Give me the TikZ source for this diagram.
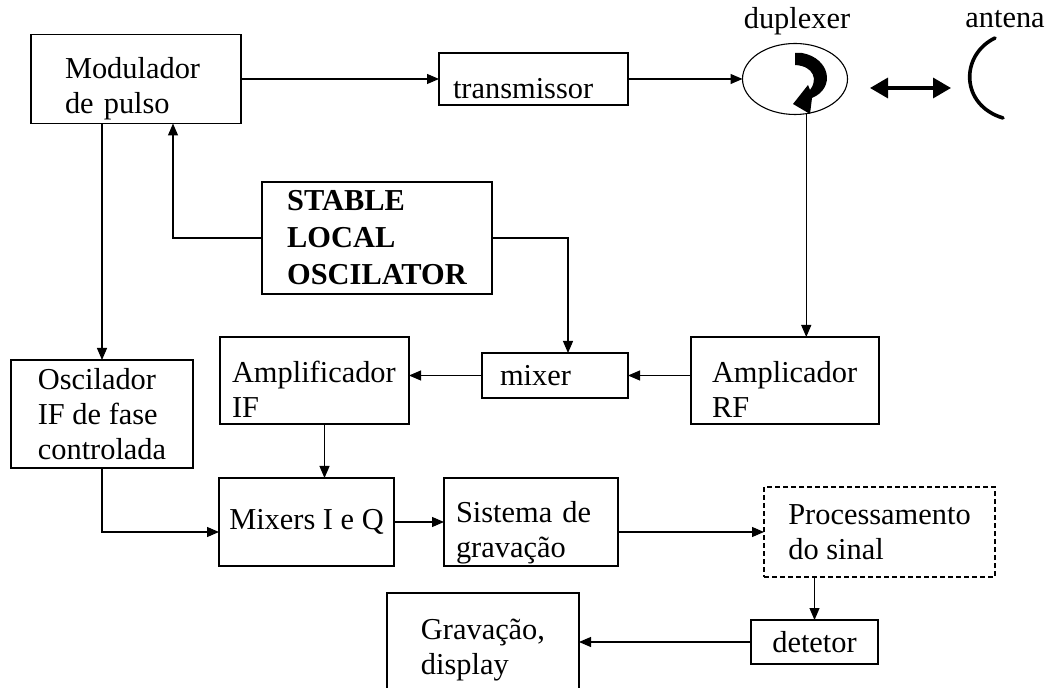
\documentclass[tikz,border=0pt]{standalone}
\usepackage{fontspec}
\setmainfont{Liberation Serif}
\usetikzlibrary{arrows.meta,shapes.geometric}

\begin{document}
\begin{tikzpicture}
[x=0.5pt,y=-0.5pt,line width=0.55pt,
 every node/.style={inner sep=0pt,outer sep=0pt,font=\fontsize{15.2pt}{17.5pt}\selectfont},
 blk/.style={draw,rectangle,align=left},
 sz/.style 2 args={minimum width=#1,minimum height=#2},
 lft/.style 2 args={text width=#1,inner xsep=#2},
 drop/.style={execute at begin node={\rule{0pt}{#1}}},
 arr/.style={-{Triangle[length=6pt,width=5pt]}},
 link/.style={line width=1.7pt,{Triangle[length=9pt,width=10pt]}-{Triangle[length=9pt,width=10pt]}}]
\useasboundingbox (0,0) rectangle (1053,688);
\clip (0,0) rectangle (1053,688);
% blocks
\node[blk,sz={105pt}{44.5pt},lft={71pt}{17pt},drop=20.4pt]    (mod)  at (136,79)      {Modulador\\de pulso};
\node[blk,sz={94.5pt}{26pt},lft={80.5pt}{7pt},drop=20pt]      (tx)   at (533.5,79)    {transmissor};
\node[draw,ellipse,sz={52.5pt}{35.5pt}]                       (dup)  at (795,79)      {};
\node                                                         (dupl) at (797,21.5)    {duplexer};
\node[anchor=base]                                            (antl) at (1005,28)     {antena};
\node[blk,sz={115pt}{56pt},font=\fontsize{15.2pt}{18.5pt}\selectfont\bfseries]
                                                              (slo)  at (377,238)     {STABLE\\LOCAL\\OSCILATOR};
\node[blk,sz={91pt}{54pt}]                                    (osc)  at (102,414)     {Oscilador\\IF de fase\\controlada};
\node[blk,sz={94.5pt}{43.5pt},lft={82.5pt}{6pt},drop=19.4pt]  (aif)  at (314.5,380.5) {Amplificador\\IF};
\node[blk,sz={73pt}{22.5pt},lft={55pt}{9pt}]                  (mix)  at (555,375.5)   {mixer};
\node[blk,sz={94pt}{43.5pt},lft={73pt}{10.5pt},drop=19.4pt]   (arf)  at (785,380.5)   {Amplicador\\RF};
\node[blk,sz={87.5pt}{44pt}]                                  (miq)  at (306.5,522)   {Mixers I e Q};
\node[blk,sz={87pt}{44pt},lft={75pt}{6pt},drop=21.4pt]        (sis)  at (531,522)     {Sistema de\\gravação};
\node[blk,sz={115.5pt}{45pt},dash pattern=on 2.5pt off 1.5pt]
                                                              (proc) at (879.5,532)   {Processamento\\do sinal};
\node[blk,sz={63.5pt}{22pt}]                                  (det)  at (814.5,642)   {detetor};
\node[blk,sz={96pt}{57pt}]                                    (grav) at (483,650)     {Gravação,\\display};
% signal paths
\draw[arr] (mod) -- (tx);
\draw[arr] (tx) -- (dup);
\draw[arr] (dup.-72.6) -- (dup.-72.6 |- arf.north);
\draw[arr] (arf.west |- mix) -- (mix.east);
\draw[arr] (mix.west) -- (mix.west -| aif.east);
\draw[arr] (slo.east) -| ([xshift=6.5pt]mix.north);
\draw[arr] (slo.west) -| ([xshift=18.5pt]mod.south);
\draw[arr] (mod.south -| osc) -- (osc.north);
\draw[arr] ([xshift=5pt]aif.south) -- ([xshift=5pt]aif.south |- miq.north);
\draw[arr] (osc.south) |- ([yshift=-5pt]miq.west);
\draw[arr] (miq) -- (sis);
\draw[arr] (proc.west -| sis.east) -- (proc.west);
\draw[arr] (det.north |- proc.south) -- (det.north);
\draw[arr] (det.west) -- (det.west -| grav.east);
% duplexer <-> antenna
\coordinate (linkL) at (870,88);
\coordinate (linkR) at (951,88);
\draw[link] (linkL) -- (linkR);
\draw[line width=1.8pt,line cap=round] (995,38) .. controls (960,55) and (960,105) .. (1003,118);
% circulator arrow
\fill (795,53) -- (802,53) .. controls (830,58) and (836,88) .. (812,98) -- (810,114) -- (793,104)
      -- (808,85) -- (810,90) .. controls (818,80) and (814,66) .. (795,65) -- cycle;
\end{tikzpicture}
\end{document}
